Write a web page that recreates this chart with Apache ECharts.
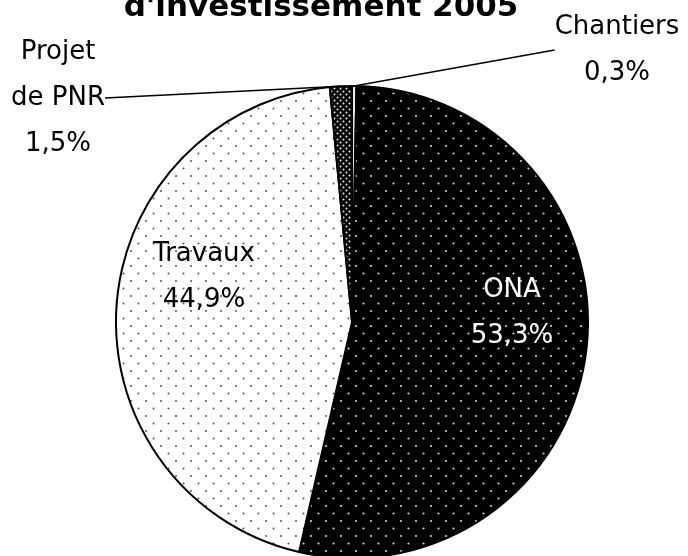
<!DOCTYPE html>
<html><head><meta charset="utf-8">
<script src="https://cdn.jsdelivr.net/npm/echarts@6/dist/echarts.min.js"></script>
<style>html,body{margin:0;padding:0;background:#fff}#c{width:688px;height:556px}</style>
</head><body><div id="c"></div>
<script>
const titleText = "d'investissement 2005";
const categories = ['Chantiers', 'ONA', 'Travaux', 'Projet\nde PNR'];
const values = [0.3, 53.3, 44.9, 1.5];

function pattern(bg, fg, size, r, pts) {
  const c = document.createElement('canvas');
  c.width = size; c.height = size;
  const g = c.getContext('2d');
  g.fillStyle = bg; g.fillRect(0, 0, size, size);
  g.fillStyle = fg;
  pts.forEach(p => { g.beginPath(); g.arc(p[0], p[1], r, 0, Math.PI * 2); g.fill(); });
  return { image: c, repeat: 'repeat' };
}
const fills = [
  '#e8e8e8',
  pattern('#000', '#d0d0d0', 15, 1.1, [[3.5, 3.5], [11, 11]]),
  pattern('#fff', '#555', 15, 1.0, [[3.5, 3.5], [11, 11]]),
  pattern('#000', '#eee', 6, 1.0, [[1.5, 1.5], [4.5, 4.5]])
];
const labelPos = [[617, 50], [512, 313], [204, 277], [58, 98]];
const font = 'DejaVu Sans';

const chart = echarts.init(document.getElementById('c'), null, { renderer: 'canvas' });
chart.setOption({
  animation: false,
  title: {
    text: titleText, left: 316, top: -13, textAlign: 'center',
    textStyle: { fontFamily: font, fontWeight: 'bold', fontSize: 31, color: '#000' }
  },
  series: [{
    type: 'pie',
    center: [352, 322], radius: 236,
    startAngle: 90, clockwise: true,
    avoidLabelOverlap: false,
    itemStyle: { borderColor: '#000', borderWidth: 2 },
    label: {
      show: true, position: 'outside',
      fontFamily: font, fontSize: 26, lineHeight: 46, color: '#000',
      formatter: p => p.name + '\n' + values[p.dataIndex].toFixed(1).replace('.', ',') + '%'
    },
    labelLine: { show: true, length: 0, length2: 0, lineStyle: { color: '#000', width: 1.3 } },
    labelLayout: p => ({ x: labelPos[p.dataIndex][0], y: labelPos[p.dataIndex][1], align: 'center', verticalAlign: 'middle' }),
    emphasis: { disabled: true },
    data: categories.map((n, i) => ({
      name: n, value: values[i],
      itemStyle: { color: fills[i] },
      label: i === 1 ? { color: '#fff' } : {},
      labelLine: (i === 1 || i === 2) ? { show: false } : {}
    }))
  }]
});
</script></body></html>
